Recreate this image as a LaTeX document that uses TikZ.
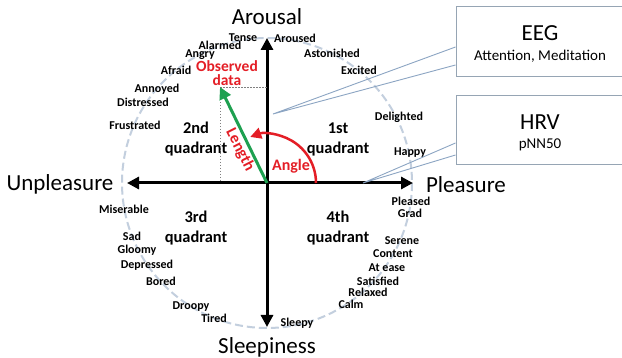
\documentclass[tikz,border=0pt]{standalone}
\usepackage{fontspec}
\setmainfont{Carlito}
\usetikzlibrary{arrows.meta}
\definecolor{ringblue}{RGB}{195,207,222}
\definecolor{callblue}{RGB}{140,165,195}
\definecolor{boxgray}{RGB}{150,165,180}
\definecolor{obsred}{RGB}{228,30,38}
\definecolor{vecgreen}{RGB}{30,160,80}
\tikzset{
    word/.style={font=\fontsize{12}{12}\selectfont\bfseries, inner sep=0pt},
    axislabel/.style={font=\fontsize{23}{23}\selectfont, inner sep=0pt},
    quad/.style={font=\fontsize{16.4}{20}\selectfont\bfseries, align=center, inner sep=0pt},
    redlabel/.style={font=\fontsize{15.5}{14}\selectfont\bfseries, text=obsred, align=center, inner sep=0pt},
    sensorbox/.style={draw=boxgray, line width=1pt, minimum width=168pt, minimum height=70pt, inner sep=0pt},
    callout/.style={draw=callblue, line width=0.9pt},
    tip/.style={-{Triangle[length=12pt,width=12pt]}},
}
\begin{document}
\begin{tikzpicture}[x=1pt,y=-1pt]
        \useasboundingbox[fill=white] (0,0) rectangle (622,358);
        % axes
            \coordinate (O) at (267,183);
            \coordinate (top) at (267,38);
            \coordinate (bottom) at (267,327);
            \coordinate (left) at (127,183);
            \coordinate (right) at (413,183);
            \draw[ringblue, line width=2pt, dash pattern=on 8pt off 4pt] (O) circle[radius=145];
            \draw[line width=3pt, {Triangle[length=12pt,width=12pt]}-{Triangle[length=12pt,width=12pt]}] (top) -- (bottom);
            \draw[line width=3pt, {Triangle[length=12pt,width=12pt]}-{Triangle[length=12pt,width=12pt]}] (left) -- (right);
            \node[axislabel] (arousal) at (267,17) {Arousal};
            \node[axislabel] (sleepiness) at (267,347) {Sleepiness};
            \node[axislabel] (unpleasure) at (60,184) {Unpleasure};
            \node[axislabel] (pleasure) at (466,185) {Pleasure};
        % quadrants
            \node[quad] (q1) at (338,139) {1st\\quadrant};
            \node[quad] (q2) at (196,139) {2nd\\quadrant};
            \node[quad] (q3) at (196,228) {3rd\\quadrant};
            \node[quad] (q4) at (338,228) {4th\\quadrant};
        % emotion words
            \foreach \x/\y/\w [count=\i] in {243/38/Tense, 295/38/Aroused, 220/45/Alarmed, 200/55/Angry,
                176/70/Afraid, 157/89/Annoyed, 143/102/Distressed, 135/125/Frustrated,
                332/53/Astonished, 359/70/Excited, 399/117/Delighted, 410/153/Happy,
                411/201/Pleased, 410/213/Grad, 402/241/Serene, 393/254/Content,
                387/268/At ease, 378/281/Satisfied, 368/292/Relaxed, 351/304/Calm,
                297/323/Sleepy, 124/209/Miserable, 132/236/Sad, 137/250/Gloomy,
                147/265/Depressed, 161/281/Bored, 191/307/Droopy, 214/318/Tired}{
                \node[word] (word\i) at (\x,\y) {\w};
            }
        % observed vector
            \coordinate (obs) at (220,87);
            \draw[gray, line width=0.8pt, dash pattern=on 1.5pt off 1.5pt] (obs) -- (obs -| O);
            \draw[gray, line width=0.8pt, dash pattern=on 1.5pt off 1.5pt] (obs) -- (obs |- O);
            \draw[vecgreen, line width=3pt, tip] (O) -- (obs);
            \draw[obsred, line width=2.5pt, -{Triangle[length=11pt,width=11pt]}] (O) ++(49,0) arc[start angle=0, end angle=-110, radius=49];
            \node[redlabel] (observed) at (227,73) {Observed\\data};
            \node[redlabel, font=\fontsize{16}{16}\selectfont\bfseries] (angle) at (291,166) {Angle};
            \node[redlabel, font=\fontsize{16}{16}\selectfont\bfseries, rotate=-63] (length) at (240,150) {Length};
        % sensors
            \coordinate (eegtip) at (273,114);
            \coordinate (hrvtip) at (363,183);
            \node[sensorbox] (eeg) at (540,42) {};
            \node[sensorbox, minimum height=69pt] (hrv) at (540,130.5) {};
            \draw[callout] ([yshift=-5pt]eeg.west) -- (eegtip) -- ([yshift=-23pt]eeg.west);
            \draw[callout] ([yshift=-12.5pt]hrv.west) -- (hrvtip) -- ([yshift=-24.5pt]hrv.west);
            \node[axislabel] (eegname) at (540,33) {EEG};
            \node[font=\fontsize{15}{15}\selectfont, inner sep=0pt] (eegsub) at (540,56) {Attention, Meditation};
            \node[axislabel] (hrvname) at (540,122) {HRV};
            \node[font=\fontsize{15}{15}\selectfont, inner sep=0pt] (hrvsub) at (540,145) {pNN50};
        \end{tikzpicture}
\end{document}
